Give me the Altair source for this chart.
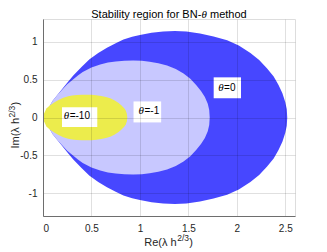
import altair as alt
import pandas as pd

# ---- boundary points (upper half; regions are symmetric about Im = 0) ----
blue_x = [0.00, 0.05, 0.10, 0.15, 0.20, 0.25, 0.31, 0.40, 0.48, 0.57, 0.66, 0.75, 0.83, 0.92, 1.00, 1.12, 1.24,
          1.36, 1.48, 1.62, 1.76, 1.90, 2.02, 2.14, 2.23, 2.31, 2.38, 2.43, 2.47, 2.50, 2.515, 2.52]
blue_y = [0.00, 0.11, 0.22, 0.30, 0.38, 0.46, 0.55, 0.67, 0.77, 0.85, 0.92, 0.98, 1.03, 1.065, 1.09, 1.12, 1.135,
          1.14, 1.135, 1.11, 1.07, 1.02, 0.95, 0.85, 0.76, 0.65, 0.54, 0.43, 0.32, 0.20, 0.11, 0.00]

lav_x = [0.00, 0.05, 0.10, 0.15, 0.20, 0.25, 0.31, 0.36, 0.41, 0.50, 0.59, 0.67, 0.75, 0.84, 0.93, 1.02, 1.10,
         1.19, 1.28, 1.37, 1.45, 1.52, 1.58, 1.63, 1.67, 1.70, 1.715, 1.72]
lav_y = [0.00, 0.11, 0.22, 0.30, 0.37, 0.44, 0.50, 0.555, 0.60, 0.66, 0.70, 0.725, 0.74, 0.75, 0.752, 0.748, 0.735,
         0.715, 0.685, 0.64, 0.58, 0.51, 0.43, 0.35, 0.27, 0.18, 0.10, 0.00]

yel_x = [0.00, 0.01, 0.035, 0.07, 0.12, 0.16, 0.21, 0.26, 0.30, 0.35, 0.40, 0.45, 0.50, 0.55, 0.60, 0.65, 0.70,
         0.74, 0.78, 0.81, 0.84, 0.855, 0.865, 0.87]
yel_y = [0.00, 0.05, 0.12, 0.16, 0.20, 0.23, 0.26, 0.28, 0.29, 0.297, 0.30, 0.30, 0.30, 0.295, 0.285, 0.27, 0.25,
         0.225, 0.19, 0.16, 0.12, 0.09, 0.05, 0.00]

# ---- labels ----
lab_text = ["=0", "=-1", "=-10"]
lab_x = [1.868, 1.047, 0.275]
lab_y = [0.39, 0.08, 0.015]
box_x1 = [1.761, 0.934, 0.196]
box_x2 = [2.043, 1.219, 0.560]
box_y1 = [0.254, -0.065, -0.126]
box_y2 = [0.530, 0.212, 0.136]

x_ticks = [0, 0.5, 1, 1.5, 2, 2.5]
y_ticks = [-1, -0.5, 0, 0.5, 1]

FONT = "Liberation Sans"
SERIF = "Liberation Serif"
TXT = "#262626"

axis_common = dict(
    title=None, grid=True, gridColor="#000000", gridOpacity=0.12, gridWidth=1,
    domainColor="#6e6e6e", ticks=False, labelFont=FONT, labelFontSize=10,
    labelColor=TXT, labelExpr="toString(datum.value)", zindex=1,
)

X = alt.X("x:Q", scale=alt.Scale(domain=[0, 2.6], nice=False, zero=False),
          axis=alt.Axis(values=x_ticks, labelPadding=7, **axis_common))
Y = alt.Y("y:Q", scale=alt.Scale(domain=[-1.3, 1.3], nice=False, zero=False),
          axis=alt.Axis(values=y_ticks, labelPadding=6, **axis_common))


def region(xs, ys, color):
    df = pd.DataFrame({"x": xs, "y": ys})
    return alt.Chart(df).transform_calculate(ny="-datum.y").mark_area(
        color=color, opacity=1, interpolate="linear"
    ).encode(x=X, y=Y, y2="ny:Q")


blue = region(blue_x, blue_y, "#4747ff")
lav = region(lav_x, lav_y, "#c8c8ff")
yel = region(yel_x, yel_y, "#ecec4c")

labels = pd.DataFrame({"t": lab_text, "lx": lab_x, "ly": lab_y,
                       "bx1": box_x1, "bx2": box_x2, "by1": box_y1, "by2": box_y2})

boxes = alt.Chart(labels).mark_rect(color="white").encode(
    x=alt.X("bx1:Q"), x2="bx2:Q", y=alt.Y("by1:Q"), y2="by2:Q")
theta = alt.Chart(labels).mark_text(
    text="θ", font=SERIF, fontStyle="italic", fontSize=11, align="right",
    baseline="middle", color="#000", dx=-0.5
).encode(x="lx:Q", y="ly:Q")
rest = alt.Chart(labels).mark_text(
    font=FONT, fontSize=10, align="left", baseline="middle", color="#000"
).encode(x="lx:Q", y="ly:Q", text="t:N")


def txt(s, x, y, **kw):
    return alt.Chart(pd.DataFrame({"s": [s]})).mark_text(**kw).encode(
        x=alt.value(x), y=alt.value(y), text="s:N")


# title pieces (pixel positions relative to plot area)
t1 = txt("Stability region for BN-", 158.3, -1.5, font=FONT, fontSize=11, align="right", baseline="alphabetic", color="#000")
t2 = txt("θ", 158.6, -1.5, font=SERIF, fontStyle="italic", fontSize=11, align="left", baseline="alphabetic", color="#000")
t3 = txt("method", 167.0, -1.5, font=FONT, fontSize=11, align="left", baseline="alphabetic", color="#000")

# x-axis title pieces
xa1 = txt("Re(λ h", 133.7, 227, font=FONT, fontSize=11, align="right", baseline="alphabetic", color=TXT)
xa2 = txt("2/3", 134.2, 227, font=FONT, fontSize=8.5, align="left", baseline="alphabetic", dy=-5, color=TXT)
xa3 = txt(")", 146.2, 227, font=FONT, fontSize=11, align="left", baseline="alphabetic", color=TXT)

# y-axis title pieces (rotated)
ya1 = txt("Im(λ h", -24.5, 99.0, font=FONT, fontSize=11, align="right", baseline="alphabetic", angle=270, color=TXT)
ya2 = txt("2/3", -24.5, 98.5, font=FONT, fontSize=8.5, align="left", baseline="alphabetic", angle=270, dy=-4, color=TXT)
ya3 = txt(")", -24.5, 86.5, font=FONT, fontSize=11, align="left", baseline="alphabetic", angle=270, color=TXT)

chart = alt.layer(
    blue, lav, yel, boxes, theta, rest, t1, t2, t3, xa1, xa2, xa3, ya1, ya2, ya3
).properties(
    width=252, height=197,
    autosize=alt.AutoSizeParams(type="none"),
    padding={"left": 35, "top": 11, "right": 24, "bottom": 34},
).configure_view(stroke=None).configure(background="white")

chart.save("out.html", embed_options={"renderer": "svg", "actions": False})
